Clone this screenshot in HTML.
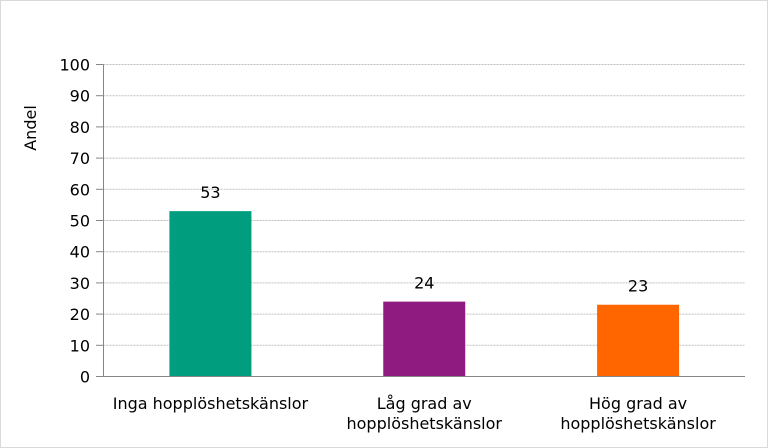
<!DOCTYPE html>
<html><head><meta charset="utf-8"><style>
body{margin:0;background:#fff}
svg{display:block;font-family:"DejaVu Sans","Liberation Sans",sans-serif}
</style></head><body>
<svg id="chart" width="768" height="448">
<rect x="0.5" y="0.5" width="767" height="447" fill="#fff" stroke="#d9d9d9"/>
<g id="grid"></g>
<g id="bars"></g>
<g id="yticks"></g>
<g id="xlabels"></g>
<text x="36" y="128" transform="rotate(-90 36 128)" text-anchor="middle" font-size="16" fill="#000">Andel</text>
</svg>
<script>
const categories=[["Inga hopplöshetskänslor"],["Låg grad av","hopplöshetskänslor"],["Hög grad av","hopplöshetskänslor"]];
const values=[53,24,23];
const colors=["#009e7e","#8f1a80","#ff6600"];
const yTicks=[0,10,20,30,40,50,60,70,80,90,100];
const NS="http://www.w3.org/2000/svg";
const x0=103.5,x1=745,yTop=64.5,yBot=376.5;
const y=v=>yBot-(v/100)*(yBot-yTop);
const bw=(x1-x0)/categories.length;
const cx=i=>x0+bw*(i+0.5);
function mk(t,a,p){const e=document.createElementNS(NS,t);for(const k in a)e.setAttribute(k,a[k]);p.appendChild(e);return e;}
const grid=document.getElementById('grid'),yt=document.getElementById('yticks'),bars=document.getElementById('bars'),xl=document.getElementById('xlabels');
yTicks.forEach(v=>{
 if(v>0){const g=mk('line',{x1:x0,x2:x1,y1:y(v),y2:y(v),stroke:'#bfbfbf','stroke-dasharray':'2,1'},grid);
 
 }
 const tk=mk('line',{x1:96,x2:x0,y1:y(v),y2:y(v),stroke:'#868686'},yt);
 
 
 const t=mk('text',{x:90,y:y(v)+6,'text-anchor':'end','font-size':16},yt);t.textContent=v;
 
 
});
const ax=mk('line',{x1:x0,x2:x0,y1:yTop,y2:yBot,stroke:'#868686'},yt);


const bx=mk('line',{x1:x0,x2:x1,y1:yBot,y2:yBot,stroke:'#868686'},yt);


values.forEach((v,i)=>{
 const r=mk('rect',{x:cx(i)-41,y:y(v),width:82,height:yBot-y(v),fill:colors[i]},bars);
 
 
 const t=mk('text',{x:cx(i),y:y(v)-13,'text-anchor':'middle','font-size':16},bars);t.textContent=v;
 
 
 categories[i].forEach((ln,j)=>{
  const c=mk('text',{x:cx(i),y:409+j*20,'text-anchor':'middle','font-size':16},xl);c.textContent=ln;
  
  
 });
});
</script>
</body></html>
